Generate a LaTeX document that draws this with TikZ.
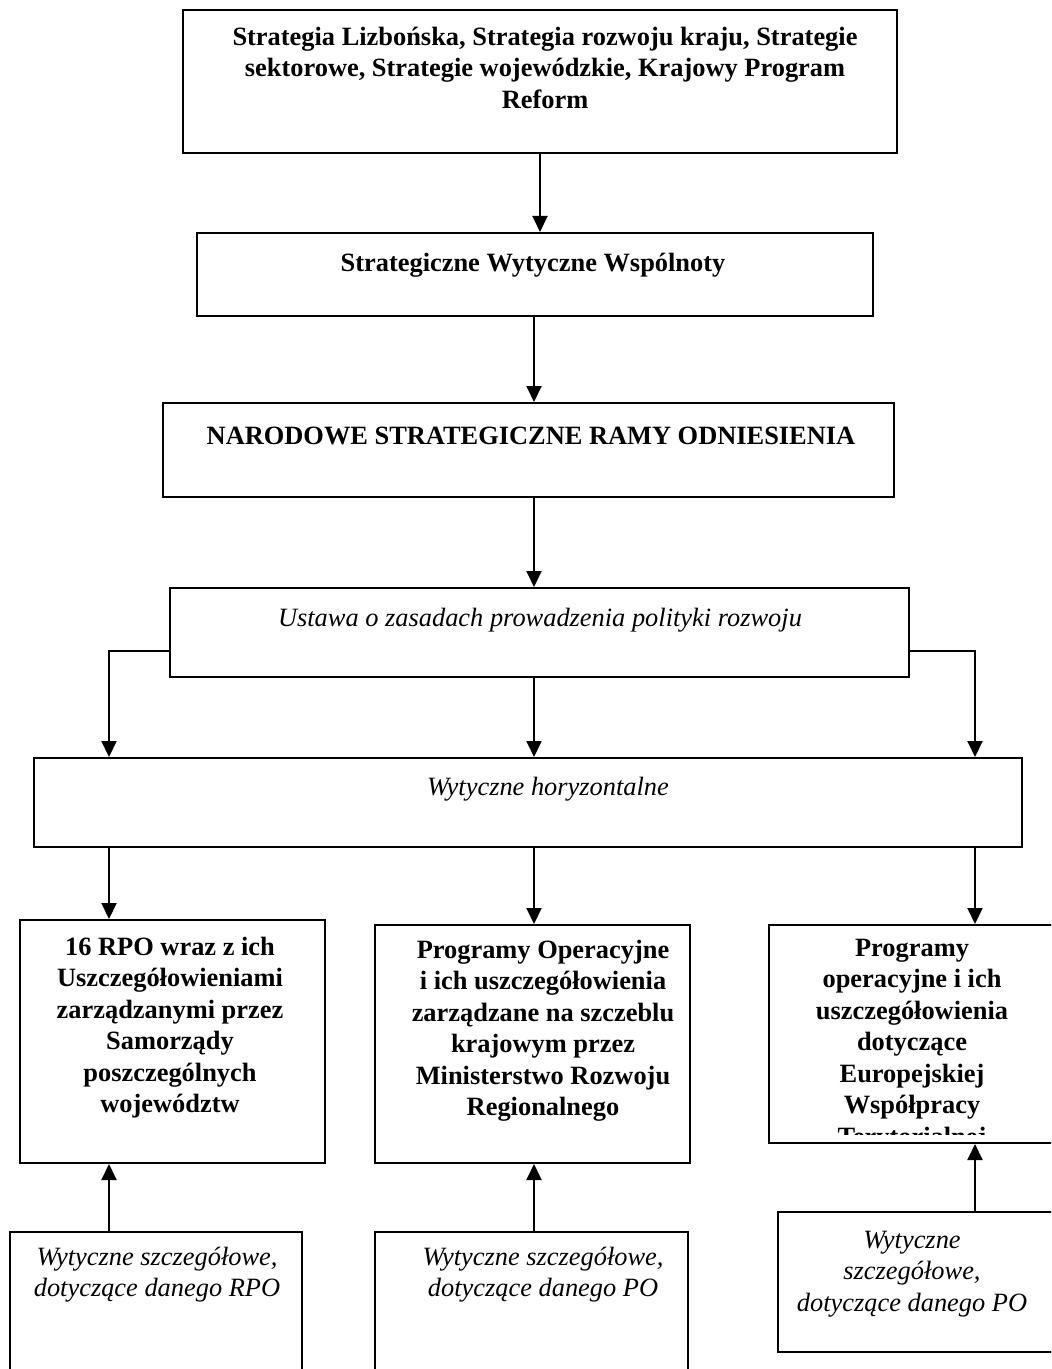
\documentclass[tikz,border=0pt]{standalone}
\usepackage{fontspec}
\setmainfont{Liberation Serif}
\usetikzlibrary{arrows.meta,fit}
\tikzset{
  box/.style={draw, line width=1pt, inner sep=0pt},
  txt/.style={align=center, inner sep=0pt, anchor=north, font=\fontsize{13.2}{15.75}\selectfont},
  btxt/.style={txt, font=\fontsize{13.2}{15.75}\selectfont\bfseries},
  itxt/.style={txt, font=\fontsize{13.2}{15.75}\selectfont\itshape},
  arr/.style={line width=1pt, -{Triangle[length=8pt,width=7.5pt]}},
}
\newcommand{\st}{\rule{0pt}{13pt}}
\begin{document}
\begin{tikzpicture}[x=0.5pt,y=-0.5pt]
\clip (0,0) rectangle (1051,1369);
\fill[white] (0,0) rectangle (1051,1369);
% boxes
\node[box, fit={(183,10) (897,153)}] (b1) {};
\node[box, fit={(197,233) (873,316)}] (b2) {};
\node[box, fit={(163,403) (894,497)}] (b3) {};
\node[box, fit={(170,588) (909,677)}] (b4) {};
\node[box, fit={(34,758) (1022,847)}] (b5) {};
\node[box, fit={(20,920) (325,1163)}] (b6) {};
\node[box, fit={(375,925) (690,1163)}] (b7) {};
\node[box, fit={(769,925) (1062,1143)}] (b8) {};
\node[box, fit={(778,1212) (1062,1352)}] (b9) {};
\node[box, fit={(10,1232) (302,1390)}] (b10) {};
\node[box, fit={(375,1232) (688,1390)}] (b11) {};
% texts
\node[btxt] (t1) at (545,19) {\st Strategia Lizbońska, Strategia rozwoju kraju, Strategie\\sektorowe, Strategie wojewódzkie, Krajowy Program\\Reform};
\node[btxt] (t2) at (533,245) {\st Strategiczne Wytyczne Wspólnoty};
\node[btxt] (t3) at (531,418) {\st NARODOWE STRATEGICZNE RAMY ODNIESIENIA};
\node[itxt] (t4) at (540,600) {\st Ustawa o zasadach prowadzenia polityki rozwoju};
\node[itxt] (t5) at (548,769) {\st Wytyczne horyzontalne};
\node[btxt] (t6) at (170,929) {\st 16 RPO wraz z ich\\Uszczegółowieniami\\zarządzanymi przez\\Samorządy\\poszczególnych\\województw};
\node[btxt] (t7) at (543,932) {\st Programy Operacyjne\\i ich uszczegółowienia\\zarządzane na szczeblu\\krajowym przez\\Ministerstwo Rozwoju\\Regionalnego};
\begin{scope}
\clip (771,927) rectangle (1051,1134);
\node[btxt] (t8) at (912,930) {\st Programy\\operacyjne i ich\\uszczegółowienia\\dotyczące\\Europejskiej\\Współpracy\\Terytorialnej};
\end{scope}
\node[itxt] (t9) at (912,1222) {\st Wytyczne\\szczegółowe,\\dotyczące danego PO};
\node[itxt] (t10) at (157,1239) {\st Wytyczne szczegółowe,\\dotyczące danego RPO};
\node[itxt] (t11) at (543,1239) {\st Wytyczne szczegółowe,\\dotyczące danego PO};
% helper coordinates
\coordinate (cx) at (534,0);
\coordinate (xl) at (109,0);
\coordinate (xr) at (975,0);
\coordinate (ly) at (0,651);
% connectors
\draw[arr] (b1.south) -- (b1.south |- b2.north);
\draw[arr] (cx |- b2.south) -- (cx |- b3.north);
\draw[arr] (cx |- b3.south) -- (cx |- b4.north);
\draw[arr] (cx |- b4.south) -- (cx |- b5.north);
\draw[arr] (ly -| b4.west) -| (xl |- b5.north);
\draw[arr] (ly -| b4.east) -| (xr |- b5.north);
\draw[arr] (xl |- b5.south) -- (xl |- b6.north);
\draw[arr] (cx |- b5.south) -- (cx |- b7.north);
\draw[arr] (xr |- b5.south) -- (xr |- b8.north);
\draw[arr] (xl |- b10.north) -- (xl |- b6.south);
\draw[arr] (cx |- b11.north) -- (cx |- b7.south);
\draw[arr] (xr |- b9.north) -- (xr |- b8.south);
\end{tikzpicture}
\end{document}
